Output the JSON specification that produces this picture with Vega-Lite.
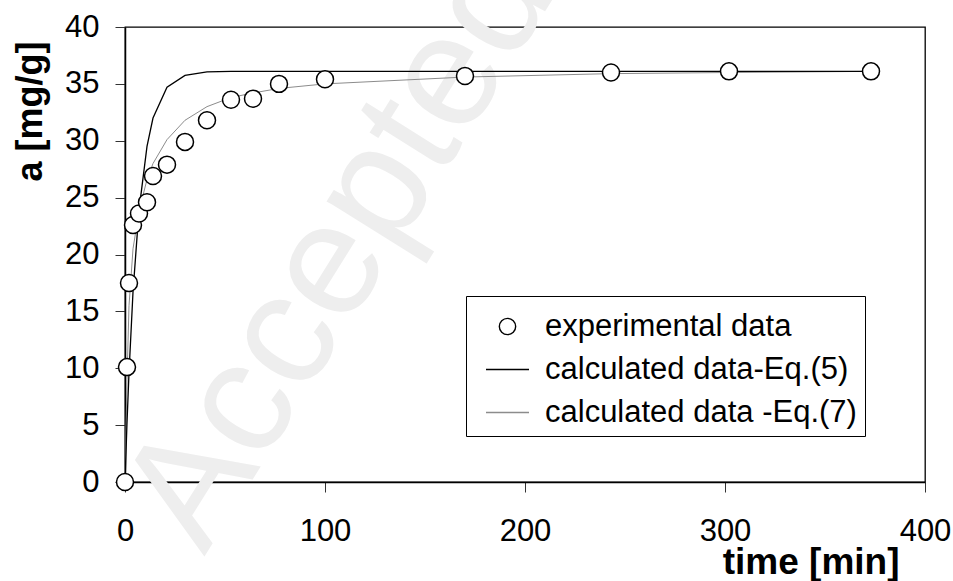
{
  "$schema": "https://vega.github.io/schema/vega-lite/v6.json",
  "autosize": {"type": "none"},
  "padding": {"left": 125, "top": 27, "right": 28, "bottom": 99},
  "width": 800,
  "height": 455,
  "background": "white",
  "config": {
    "view": {"stroke": "black", "strokeWidth": 1.3},
    "font": "Liberation Sans",
    "legend": {
      "orient": "none", "legendX": 341, "legendY": 269,
      "strokeColor": "black", "strokeWidth": 1, "fillColor": "white",
      "padding": 8, "symbolOffset": 11, "labelOffset": 15,
      "labelFontSize": 31, "labelColor": "black", "labelLimit": 500,
      "symbolSize": 1849, "symbolStrokeWidth": 1.4, "rowPadding": 5,
      "symbolFillColor": "white"
    }
  },
  "datasets": {
    "wm": [{"x": 128, "y": 18.3, "label": "Accepted"}],
    "series": [
      {"t": 0, "a": 0, "s": "experimental data"},
      {"t": 1, "a": 10.1, "s": "experimental data"},
      {"t": 2, "a": 17.5, "s": "experimental data"},
      {"t": 4, "a": 22.6, "s": "experimental data"},
      {"t": 7, "a": 23.6, "s": "experimental data"},
      {"t": 11, "a": 24.6, "s": "experimental data"},
      {"t": 14, "a": 26.9, "s": "experimental data"},
      {"t": 21, "a": 27.9, "s": "experimental data"},
      {"t": 30, "a": 29.9, "s": "experimental data"},
      {"t": 41, "a": 31.8, "s": "experimental data"},
      {"t": 53, "a": 33.6, "s": "experimental data"},
      {"t": 64, "a": 33.7, "s": "experimental data"},
      {"t": 77, "a": 35.0, "s": "experimental data"},
      {"t": 100, "a": 35.4, "s": "experimental data"},
      {"t": 170, "a": 35.7, "s": "experimental data"},
      {"t": 243, "a": 36.0, "s": "experimental data"},
      {"t": 302, "a": 36.1, "s": "experimental data"},
      {"t": 373, "a": 36.1, "s": "experimental data"},
      {"t": 0, "a": 0, "s": "calculated data-Eq.(5)"},
      {"t": 1, "a": 5.2, "s": "calculated data-Eq.(5)"},
      {"t": 2, "a": 9.6, "s": "calculated data-Eq.(5)"},
      {"t": 4, "a": 16.7, "s": "calculated data-Eq.(5)"},
      {"t": 7, "a": 23.9, "s": "calculated data-Eq.(5)"},
      {"t": 11, "a": 29.5, "s": "calculated data-Eq.(5)"},
      {"t": 14, "a": 32.0, "s": "calculated data-Eq.(5)"},
      {"t": 21, "a": 34.7, "s": "calculated data-Eq.(5)"},
      {"t": 30, "a": 35.75, "s": "calculated data-Eq.(5)"},
      {"t": 41, "a": 36.05, "s": "calculated data-Eq.(5)"},
      {"t": 53, "a": 36.1, "s": "calculated data-Eq.(5)"},
      {"t": 64, "a": 36.1, "s": "calculated data-Eq.(5)"},
      {"t": 77, "a": 36.1, "s": "calculated data-Eq.(5)"},
      {"t": 100, "a": 36.1, "s": "calculated data-Eq.(5)"},
      {"t": 170, "a": 36.1, "s": "calculated data-Eq.(5)"},
      {"t": 243, "a": 36.1, "s": "calculated data-Eq.(5)"},
      {"t": 302, "a": 36.1, "s": "calculated data-Eq.(5)"},
      {"t": 373, "a": 36.1, "s": "calculated data-Eq.(5)"},
      {"t": 0, "a": 0, "s": "calculated data -Eq.(7)"},
      {"t": 1, "a": 9.0, "s": "calculated data -Eq.(7)"},
      {"t": 2, "a": 15.5, "s": "calculated data -Eq.(7)"},
      {"t": 4, "a": 20.5, "s": "calculated data -Eq.(7)"},
      {"t": 7, "a": 23.8, "s": "calculated data -Eq.(7)"},
      {"t": 11, "a": 26.6, "s": "calculated data -Eq.(7)"},
      {"t": 14, "a": 28.0, "s": "calculated data -Eq.(7)"},
      {"t": 21, "a": 30.1, "s": "calculated data -Eq.(7)"},
      {"t": 30, "a": 31.8, "s": "calculated data -Eq.(7)"},
      {"t": 41, "a": 33.0, "s": "calculated data -Eq.(7)"},
      {"t": 53, "a": 33.8, "s": "calculated data -Eq.(7)"},
      {"t": 64, "a": 34.2, "s": "calculated data -Eq.(7)"},
      {"t": 77, "a": 34.6, "s": "calculated data -Eq.(7)"},
      {"t": 100, "a": 35.0, "s": "calculated data -Eq.(7)"},
      {"t": 170, "a": 35.6, "s": "calculated data -Eq.(7)"},
      {"t": 243, "a": 35.9, "s": "calculated data -Eq.(7)"},
      {"t": 302, "a": 36.0, "s": "calculated data -Eq.(7)"},
      {"t": 373, "a": 36.1, "s": "calculated data -Eq.(7)"}
    ]
  },
  "encoding": {
    "x": {
      "field": "t", "type": "quantitative",
      "scale": {"domain": [0, 400], "nice": false, "zero": false},
      "axis": {
        "values": [0, 100, 200, 300, 400],
        "grid": false,
        "domainColor": "black", "domainWidth": 1.5,
        "tickColor": "#333", "tickSize": 10, "tickWidth": 1,
        "labelFontSize": 31, "labelColor": "black", "labelBaseline": "alphabetic", "labelPadding": 48,
        "labelFlush": false, "labelOverlap": false,
        "title": "time [min]", "titleFontSize": 37, "titleFontWeight": "bold", "titleColor": "black",
        "titleAlign": "right", "titleAnchor": "end", "titleX": 774, "titleY": 91, "titleBaseline": "alphabetic"
      }
    },
    "y": {
      "field": "a", "type": "quantitative",
      "scale": {"domain": [0, 40], "nice": false},
      "axis": {
        "values": [0, 5, 10, 15, 20, 25, 30, 35, 40],
        "grid": false,
        "domainColor": "black", "domainWidth": 1.5,
        "tickColor": "#333", "tickSize": 10, "tickWidth": 1,
        "labelFontSize": 31, "labelColor": "black", "labelBaseline": "middle", "labelPadding": 16,
        "labelFlush": false, "labelOverlap": false,
        "title": "a  [mg/g]", "titleFontSize": 36, "titleFontWeight": "bold", "titleColor": "black",
        "titleAngle": -90, "titleAlign": "center", "titleBaseline": "middle", "titleX": -95, "titleY": 84
      }
    }
  },
  "layer": [
    {
      "data": {"name": "wm"},
      "mark": {"type": "text", "angle": -58, "fontSize": 160, "align": "center", "baseline": "alphabetic", "color": "#eeeeee", "font": "Liberation Sans"},
      "encoding": {
        "x": {"field": "x", "type": "quantitative"},
        "y": {"field": "y", "type": "quantitative"},
        "text": {"field": "label"}
      }
    },
    {
      "data": {"name": "series"},
      "transform": [{"filter": "datum.s === 'calculated data -Eq.(7)'"}],
      "mark": {"type": "line", "strokeWidth": 1, "clip": true},
      "encoding": {
        "color": {
          "field": "s", "type": "nominal",
          "scale": {
            "domain": ["experimental data", "calculated data-Eq.(5)", "calculated data -Eq.(7)"],
            "range": ["black", "black", "#8c8c8c"]
          },
          "legend": {"title": null}
        }
      }
    },
    {
      "data": {"name": "series"},
      "transform": [{"filter": "datum.s === 'calculated data-Eq.(5)'"}],
      "mark": {"type": "line", "strokeWidth": 1.3, "clip": true},
      "encoding": {
        "color": {
          "field": "s", "type": "nominal",
          "scale": {
            "domain": ["experimental data", "calculated data-Eq.(5)", "calculated data -Eq.(7)"],
            "range": ["black", "black", "#8c8c8c"]
          },
          "legend": {"title": null}
        }
      }
    },
    {
      "data": {"name": "series"},
      "transform": [{"filter": "datum.s === 'experimental data'"}],
      "mark": {"type": "point", "filled": false, "fill": "white", "size": 2000, "strokeWidth": 1.5, "opacity": 1},
      "encoding": {
        "shape": {
          "field": "s", "type": "nominal",
          "scale": {
            "domain": ["experimental data", "calculated data-Eq.(5)", "calculated data -Eq.(7)"],
            "range": ["M-0.38,0A0.38,0.38,0,1,1,0.38,0A0.38,0.38,0,1,1,-0.38,0Z", "stroke", "stroke"]
          },
          "legend": {"title": null}
        },
        "color": {
          "field": "s", "type": "nominal",
          "scale": {
            "domain": ["experimental data", "calculated data-Eq.(5)", "calculated data -Eq.(7)"],
            "range": ["black", "black", "#8c8c8c"]
          },
          "legend": {"title": null}
        }
      }
    }
  ]
}
